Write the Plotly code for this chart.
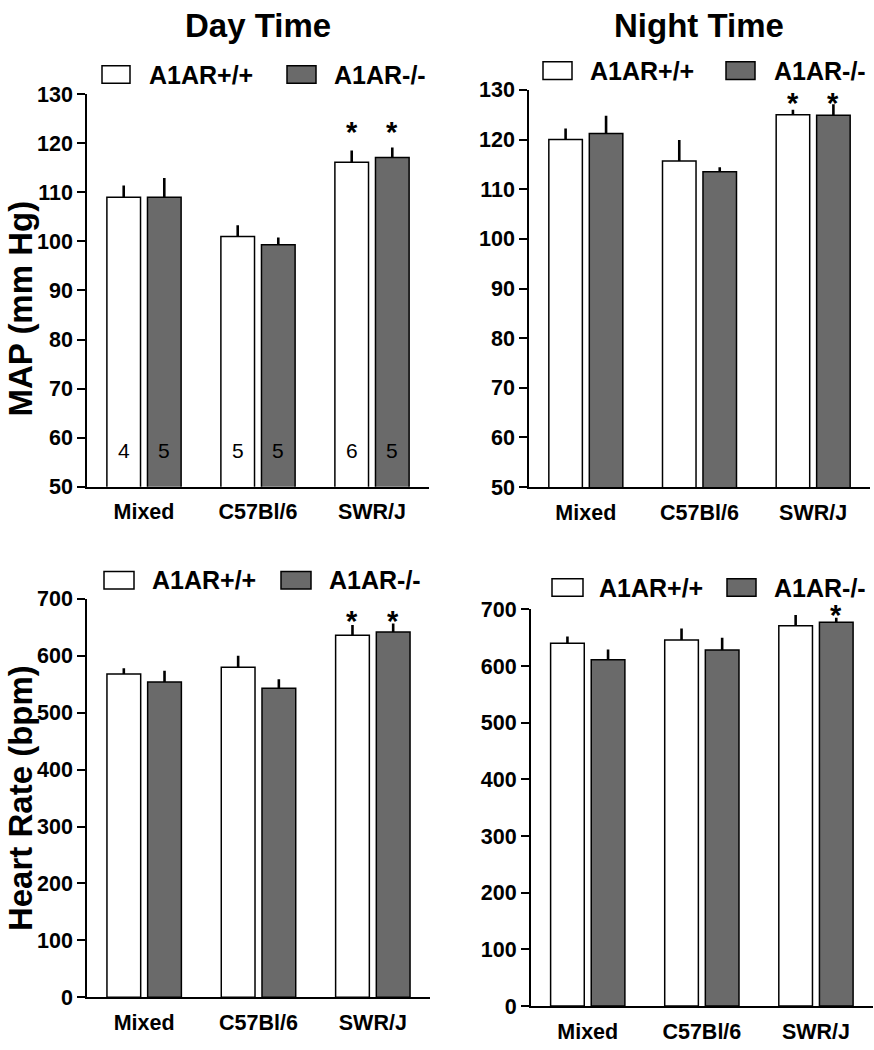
import plotly.graph_objects as go

# ---------------- data ----------------
categories = ["Mixed", "C57Bl/6", "SWR/J"]
series_names = ["A1AR+/+", "A1AR-/-"]

map_day_wt = [109.0, 101.0, 116.1]
map_day_wt_err = [2.4, 2.3, 2.4]
map_day_ko = [109.0, 99.3, 117.1]
map_day_ko_err = [3.9, 1.5, 2.0]

map_night_wt = [120.0, 115.7, 125.0]
map_night_wt_err = [2.2, 4.2, 1.0]
map_night_ko = [121.2, 113.5, 124.9]
map_night_ko_err = [3.6, 0.9, 2.2]

hr_day_wt = [568, 580, 636]
hr_day_wt_err = [10, 20, 18]
hr_day_ko = [554, 543, 642]
hr_day_ko_err = [20, 16, 15]

hr_night_wt = [640, 646, 671]
hr_night_wt_err = [12, 20, 19]
hr_night_ko = [611, 628, 677]
hr_night_ko_err = [18, 22, 8]

n_wt = [4, 5, 6]
n_ko = [5, 5, 5]

# significance flags (asterisks)
sig_map_day_wt = [False, False, True]
sig_map_day_ko = [False, False, True]
sig_map_night_wt = [False, False, True]
sig_map_night_ko = [False, False, True]
sig_hr_day_wt = [False, False, True]
sig_hr_day_ko = [False, False, True]
sig_hr_night_wt = [False, False, False]
sig_hr_night_ko = [False, False, True]

# ---------------- style ----------------
W, H = 874, 1050
FONT = "Liberation Sans, Arial, sans-serif"
WHITE = "#ffffff"
GRAY = "#6a6a6a"
BAR_W = 0.295
OFF = 0.178


def px_x(p):
    return p / W


def px_y(p):
    return 1 - p / H


panels = [
    dict(xd=(87, 429), yd=(85, 487), yr=(50, 130), dt=10,
         wt=map_day_wt, wte=map_day_wt_err, ko=map_day_ko, koe=map_day_ko_err,
         swt=sig_map_day_wt, sko=sig_map_day_ko, star_shift=12,
         leg=dict(y=65, b1=(102, 130), t1=147, b2=(287, 316), t2=332), nlab=True),
    dict(xd=(529, 870), yd=(80.7, 487.3), yr=(50, 130), dt=10,
         wt=map_night_wt, wte=map_night_wt_err, ko=map_night_ko, koe=map_night_ko_err,
         swt=sig_map_night_wt, sko=sig_map_night_ko, star_shift=-3,
         leg=dict(y=61, b1=(543, 572), t1=588, b2=(726, 755), t2=772), nlab=False),
    dict(xd=(87, 430), yd=(601.7, 1009.3), yr=(0, 700), dt=100,
         wt=hr_day_wt, wte=hr_day_wt_err, ko=hr_day_ko, koe=hr_day_ko_err,
         swt=sig_hr_day_wt, sko=sig_hr_day_ko, star_shift=-2,
         leg=dict(y=582.5, b1=(104, 134), t1=150, b2=(281, 311), t2=327), nlab=False),
    dict(xd=(530.7, 873), yd=(612.3, 1018.3), yr=(0, 700), dt=100,
         wt=hr_night_wt, wte=hr_night_wt_err, ko=hr_night_ko, koe=hr_night_ko_err,
         swt=sig_hr_night_wt, sko=sig_hr_night_ko, star_shift=-4,
         leg=dict(y=590, b1=(552, 583), t1=597, b2=(727, 756), t2=772), nlab=False),
]

fig = go.Figure()
annotations = []
shapes = []
layout_axes = {}

for k, p in enumerate(panels):
    sfx = "" if k == 0 else str(k + 1)
    xref, yref = "x" + sfx, "y" + sfx
    xs = list(range(len(categories)))
    for vals, errs, color, off in ((p["wt"], p["wte"], WHITE, -OFF),
                                   (p["ko"], p["koe"], GRAY, OFF)):
        fig.add_trace(go.Bar(
            x=[i + off for i in xs], y=vals, width=BAR_W,
            marker=dict(color=color, line=dict(color="#000000", width=1.5)),
            error_y=dict(type="data", array=errs, arrayminus=[0] * len(errs),
                         symmetric=False, width=0, thickness=2.6, color="#000000"),
            xaxis=xref, yaxis=yref, showlegend=False, hoverinfo="skip",
        ))
    # asterisks
    for i in xs:
        top = max(p["wt"][i] + p["wte"][i], p["ko"][i] + p["koe"][i])
        for sig, off in ((p["swt"][i], -OFF), (p["sko"][i], OFF)):
            if sig:
                annotations.append(dict(
                    x=i + off, y=top, xref=xref, yref=yref, text="*",
                    showarrow=False, yanchor="bottom", yshift=p["star_shift"] - 14,
                    font=dict(family=FONT, size=29, color="#000000", weight="bold")))
    # n labels
    if p["nlab"]:
        for i in xs:
            for n, off in ((n_wt[i], -OFF), (n_ko[i], OFF)):
                annotations.append(dict(
                    x=i + off, y=p["yr"][0], xref=xref, yref=yref, text=str(n),
                    showarrow=False, yanchor="middle", yshift=36,
                    font=dict(family=FONT, size=21, color="#000000")))
    # legend drawn as boxes + text
    lg = p["leg"]
    for (bx0, bx1), tx, color, name in ((lg["b1"], lg["t1"], WHITE, series_names[0]),
                                        (lg["b2"], lg["t2"], GRAY, series_names[1])):
        shapes.append(dict(type="rect", xref="paper", yref="paper",
                           x0=px_x(bx0), x1=px_x(bx1),
                           y0=px_y(lg["y"] + 9), y1=px_y(lg["y"] - 9),
                           fillcolor=color, line=dict(color="#000000", width=1.5)))
        annotations.append(dict(x=px_x(tx), y=px_y(lg["y"]), xref="paper", yref="paper",
                                text=name, showarrow=False, xanchor="left", yanchor="middle",
                                font=dict(family=FONT, size=25, color="#000000", weight="bold")))

    layout_axes["xaxis" + sfx] = dict(
        domain=[px_x(p["xd"][0]), px_x(p["xd"][1])], anchor=yref,
        range=[-0.5, len(categories) - 0.5], tickmode="array",
        tickvals=xs, ticktext=categories, showline=True, linecolor="#000000",
        linewidth=1.6, ticks="outside", ticklen=5, tickcolor="rgba(0,0,0,0)",
        tickfont=dict(family=FONT, size=21.5, color="#000000", weight="bold"),
        showgrid=False, zeroline=False, fixedrange=True)
    layout_axes["yaxis" + sfx] = dict(
        domain=[px_y(p["yd"][1]), px_y(p["yd"][0])], anchor=xref,
        range=list(p["yr"]), tickmode="linear", tick0=p["yr"][0], dtick=p["dt"],
        showline=True, linecolor="#000000", linewidth=1.6, ticks="outside",
        ticklen=8, tickwidth=1.6, tickcolor="#000000",
        tickfont=dict(family=FONT, size=21.5, color="#000000", weight="bold"),
        showgrid=False, zeroline=False, fixedrange=True)

# titles
annotations.append(dict(x=px_x(257.5), y=px_y(15), xref="paper", yref="paper",
                        text="Day Time", showarrow=False, xanchor="center", yanchor="middle",
                        font=dict(family=FONT, size=33, color="#000000", weight="bold")))
annotations.append(dict(x=px_x(699), y=px_y(15), xref="paper", yref="paper",
                        text="Night Time", showarrow=False, xanchor="center", yanchor="middle",
                        font=dict(family=FONT, size=33, color="#000000", weight="bold")))
# y-axis titles
annotations.append(dict(x=0, y=px_y(305), xref="paper", yref="paper",
                        text="MAP (mm Hg)", showarrow=False, textangle=-90,
                        xanchor="left", yanchor="middle",
                        font=dict(family=FONT, size=33, color="#000000", weight="bold")))
annotations.append(dict(x=0, y=px_y(806), xref="paper", yref="paper",
                        text="Heart Rate (bpm)", showarrow=False, textangle=-90,
                        xanchor="left", yanchor="middle",
                        font=dict(family=FONT, size=33, color="#000000", weight="bold")))

fig.update_layout(
    width=W, height=H, margin=dict(l=0, r=0, t=0, b=0),
    paper_bgcolor="#ffffff", plot_bgcolor="#ffffff",
    barmode="overlay", showlegend=False, hovermode=False,
    annotations=annotations, shapes=shapes, **layout_axes)

# place the figure at the page's top-left corner (no default body margin)
fig.write_html("out.html", config={"displayModeBar": False},
               post_script="document.body.style.margin='0px';")
